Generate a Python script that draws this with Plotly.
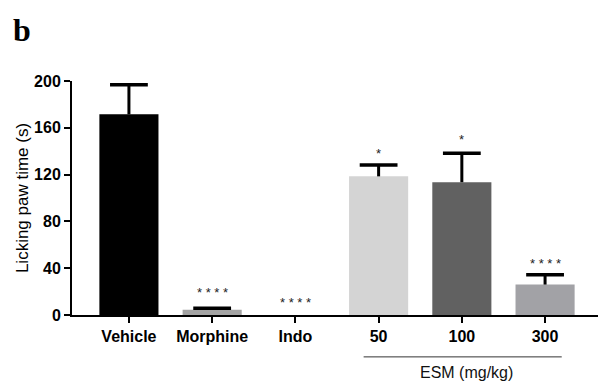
import plotly.graph_objects as go

categories = ["Vehicle", "Morphine", "Indo", "50", "100", "300"]
means = [171.5, 4.5, 0, 118.5, 113.5, 26]
sems = [25.3, 1.2, 0, 9.7, 24.8, 8.5]
colors = ["#000000", "#a3a3a3", "#ffffff", "#d4d4d4", "#616161", "#a2a2a6"]
sig_labels = ["", "****", "****", "*", "*", "****"]
sig_y = [None, 19, 11, 138, 150, 44]
y_ticks = [0, 40, 80, 120, 160, 200]

x = list(range(len(categories)))
FONT = "Arial, Liberation Sans, sans-serif"

fig = go.Figure()
fig.add_trace(go.Bar(
    x=x, y=means, width=0.71,
    marker=dict(color=colors, line=dict(width=0)),
    showlegend=False, hoverinfo="skip",
))

# upper-only error bars: stems and caps built from the data
stem_x, stem_y, cap_x, cap_y = [], [], [], []
for xi, m, s in zip(x, means, sems):
    if s > 0:
        stem_x += [xi, xi, None]
        stem_y += [m, m + s, None]
        cap_x.append(xi)
        cap_y.append(m + s)
fig.add_trace(go.Scatter(x=stem_x, y=stem_y, mode="lines",
                         line=dict(color="black", width=3),
                         showlegend=False, hoverinfo="skip"))
fig.add_trace(go.Scatter(x=cap_x, y=cap_y, mode="markers",
                         marker=dict(symbol="line-ew", size=27,
                                     line=dict(color="black", width=3.5)),
                         showlegend=False, hoverinfo="skip"))

for xi, lab, yy in zip(x, sig_labels, sig_y):
    if lab:
        fig.add_annotation(x=xi, y=yy, text=" ".join(lab), showarrow=False,
                           font=dict(family=FONT, size=13, color="#222"),
                           xref="x", yref="y")

# ESM group line + label
fig.add_shape(type="line", xref="x", yref="paper", x0=2.82, x1=5.2,
              y0=-0.179, y1=-0.179, line=dict(color="#333", width=1))
fig.add_annotation(x=4.05, y=-0.29, xref="x", yref="paper", text="ESM (mg/kg)",
                   showarrow=False, font=dict(family=FONT, size=16, color="#111"))

fig.add_annotation(x=-0.115, y=1.305, xref="paper", yref="paper", text="<b>b</b>",
                   showarrow=False, xanchor="left", yanchor="top",
                   font=dict(family="Liberation Serif, Times New Roman, serif", size=32, color="#000"))

fig.update_layout(
    width=598, height=376,
    margin=dict(l=64, r=6, t=73, b=69, autoexpand=False),
    plot_bgcolor="white", paper_bgcolor="white",
    font=dict(family=FONT, color="#000"),
    xaxis=dict(range=[-0.684, 5.66], tickmode="array", tickvals=x,
               ticktext=["<b>%s</b>" % c for c in categories],
               showline=True, linecolor="black", linewidth=2,
               ticks="outside", ticklen=6, tickwidth=2, tickcolor="black",
               tickfont=dict(size=16), showgrid=False, zeroline=False),
    yaxis=dict(range=[0, 200], tickmode="array", tickvals=y_ticks,
               ticktext=["<b>%d</b>" % t for t in y_ticks],
               showline=True, linecolor="black", linewidth=2,
               ticks="outside", ticklen=6, tickwidth=2, tickcolor="black",
               tickfont=dict(size=16), showgrid=False, zeroline=False,
               title=dict(text="Licking paw time (s)", font=dict(size=17), standoff=1)),
)

fig.write_html("out.html")
